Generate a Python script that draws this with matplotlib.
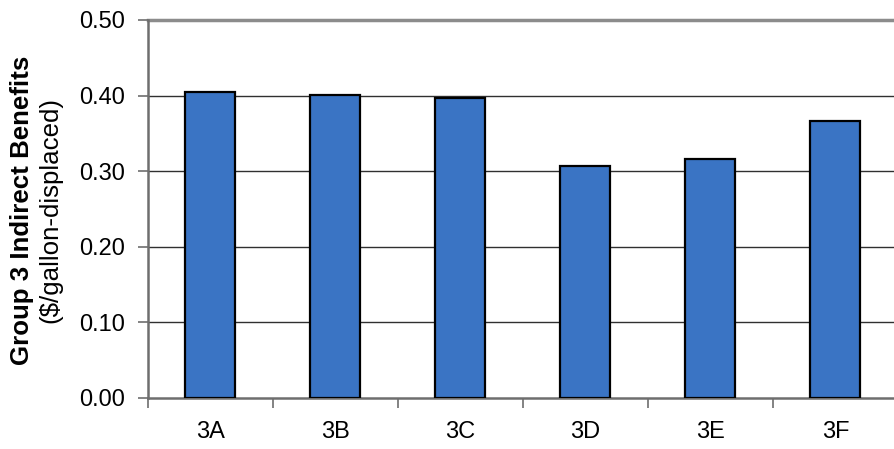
import numpy as np
import matplotlib.pyplot as plt

plt.rcParams['font.family'] = ['Liberation Sans', 'DejaVu Sans']

### Data ###

scenarios = ['3A', '3B', '3C', '3D', '3E', '3F']
benefits = [0.405, 0.401, 0.397, 0.307, 0.316, 0.366]  # $/gallon-displaced
yticks = [0.0, 0.1, 0.2, 0.3, 0.4, 0.5]

### Plot ###

fig = plt.figure(figsize=(8.95, 4.49), dpi=100)
# axis runs past the right edge of the picture, as in the original
ax = fig.add_axes([148/895, 1 - 398/449, 750/895, 378/449])

x = np.arange(len(scenarios))
ax.bar(x, benefits, width=0.4, color='#3a74c4', edgecolor='black', linewidth=1.6, zorder=3)

ax.set_xlim(-0.5, len(scenarios) - 0.5)
ax.set_ylim(0, 0.5)

# gridlines, the top one drawn gray like the frame
for y in yticks[1:-1]:
    ax.axhline(y, color='#303030', linewidth=1.0, zorder=1)
ax.axhline(0.5, color='#8c8c8c', linewidth=2.5, zorder=1, clip_on=False)

ax.set_yticks(yticks)
ax.set_yticklabels(['%.2f' % v for v in yticks])
ax.set_xticks(np.arange(-0.5, len(scenarios), 1.0))
ax.set_xticklabels([])
ax.set_xticks(x, minor=True)
ax.set_xticklabels(scenarios, minor=True)

ax.tick_params(axis='y', direction='out', length=7, width=1.2, color='#6e6e6e',
               labelsize=17, pad=9.5)
ax.tick_params(axis='x', which='major', direction='out', length=7, width=1.2, color='#6e6e6e')
ax.tick_params(axis='x', which='minor', length=0, labelsize=17, pad=16.5)

for side in ['top', 'right']:
    ax.spines[side].set_visible(False)
for side in ['left', 'bottom']:
    ax.spines[side].set_color('#6e6e6e')
    ax.spines[side].set_linewidth(1.8)

fig.text(22/895, 1 - 210/449, 'Group 3 Indirect Benefits', rotation=90,
         ha='center', va='center', fontsize=18.6, fontweight='bold')
fig.text(50/895, 1 - 210/449, '($/gallon-displaced)', rotation=90,
         ha='center', va='center', fontsize=18.6)

fig.savefig('out.png', dpi=100)
